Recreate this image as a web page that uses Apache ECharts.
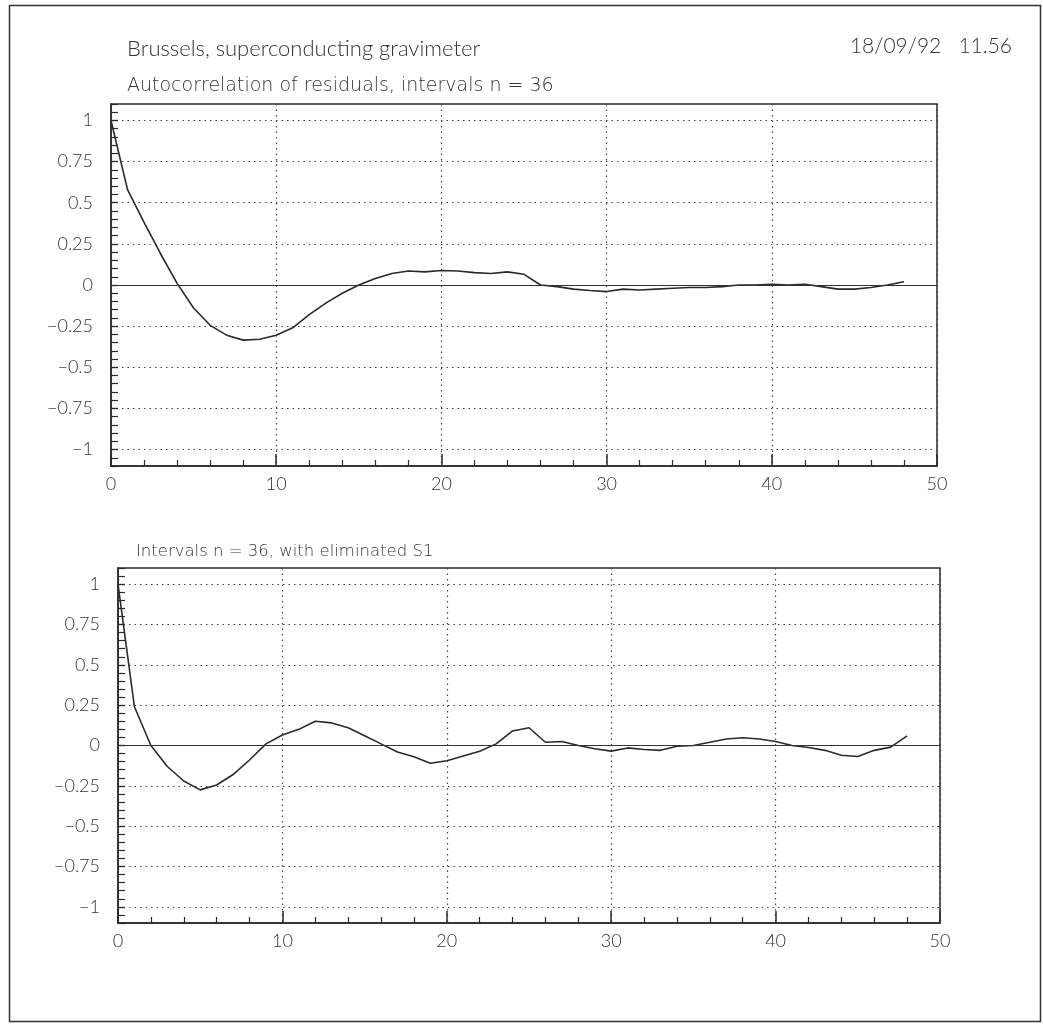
<!DOCTYPE html>
<html><head><meta charset="utf-8">
<script src="https://cdn.jsdelivr.net/npm/echarts@6/dist/echarts.min.js"></script>
<style>html,body{margin:0;padding:0;background:#fff}#c{width:1043px;height:1024px}</style>
</head><body><div id="c"></div>
<script>
// ---- data ----
const lags = [0,1,2,3,4,5,6,7,8,9,10,11,12,13,14,15,16,17,18,19,20,21,22,23,24,25,26,27,28,29,30,31,32,33,34,35,36,37,38,39,40,41,42,43,44,45,46,47,48];
const acfResiduals = [1.0,0.58,0.38,0.19,0.01,-0.14,-0.245,-0.305,-0.335,-0.33,-0.305,-0.26,-0.18,-0.11,-0.05,0.0,0.04,0.07,0.085,0.08,0.088,0.085,0.075,0.07,0.08,0.065,0.0,-0.01,-0.025,-0.033,-0.04,-0.025,-0.03,-0.025,-0.02,-0.015,-0.015,-0.01,0.0,0.0,0.005,0.0,0.005,-0.01,-0.025,-0.025,-0.015,0.0,0.02];
const acfNoS1 = [1.0,0.24,0.0,-0.13,-0.22,-0.275,-0.245,-0.18,-0.09,0.01,0.065,0.10,0.15,0.14,0.11,0.06,0.01,-0.04,-0.07,-0.11,-0.095,-0.065,-0.035,0.01,0.09,0.11,0.02,0.025,0.0,-0.02,-0.035,-0.015,-0.025,-0.03,-0.005,0.0,0.02,0.04,0.048,0.04,0.025,0.0,-0.012,-0.03,-0.06,-0.068,-0.03,-0.01,0.06];
const xTickLabels = [0,10,20,30,40,50];
const yTickLabels = [-1,-0.75,-0.5,-0.25,0,0.25,0.5,0.75,1];
const mainTitle = 'Brussels, superconducting gravimeter';
const subTitle1 = 'Autocorrelation of residuals, intervals n = 36';
const subTitle2 = 'Intervals n = 36, with eliminated S1';
const stamp = '18/09/92   11.56';

// ---- styling ----
const FONT = 'Lato, "Liberation Sans", sans-serif';
const WIDE = '"DejaVu Sans", Lato, sans-serif';
const INK = '#2a2a2a';
const chart = echarts.init(document.getElementById('c'), null, {renderer: 'canvas'});

function fmt(v) {
  return v < 0 ? '\u2212' + String(Math.abs(v)) : String(v);
}
function xAx(g) {
  return {
    type: 'value', gridIndex: g, min: 0, max: 50, interval: 10,
    axisLine: {onZero: false, lineStyle: {color: INK, width: 1.5}},
    axisTick: {inside: true, length: 12, lineStyle: {color: INK, width: 1.5}},
    minorTick: {show: true, splitNumber: 5, length: 6, lineStyle: {color: INK, width: 1.2}},
    axisLabel: {margin: 9, fontSize: 18, color: '#333', fontFamily: FONT, fontWeight: 300,
      customValues: xTickLabels},
    splitLine: {show: true, lineStyle: {type: [1.5, 4], color: '#444', width: 1.2}}
  };
}
function yMain(g) {
  return {
    type: 'value', gridIndex: g, min: -1.1, max: 1.1, position: 'left',
    axisLine: {onZero: false, lineStyle: {color: INK, width: 1.5}},
    axisTick: {inside: true, length: 7, customValues: yTickLabels, lineStyle: {color: INK, width: 1.2}},
    axisLabel: {customValues: yTickLabels, formatter: fmt, margin: 18, fontSize: 18,
      color: '#333', fontFamily: FONT, fontWeight: 300},
    splitLine: {show: true, lineStyle: {type: [1.5, 4], color: '#444', width: 1.2}}
  };
}
function yMinor(g) {
  return {
    type: 'value', gridIndex: g, min: -1.1, max: 1.1, interval: 0.05, position: 'left',
    axisLine: {show: false},
    axisTick: {inside: true, length: 7, lineStyle: {color: INK, width: 1.2}},
    axisLabel: {show: false},
    splitLine: {show: false}
  };
}
function lineSeries(g, vals) {
  return {
    type: 'line', xAxisIndex: g, yAxisIndex: g * 2, showSymbol: false, silent: true,
    data: lags.map((k, i) => [k, vals[i]]),
    lineStyle: {color: INK, width: 1.6},
    markLine: {silent: true, symbol: 'none', label: {show: false},
      lineStyle: {type: 'solid', color: '#333', width: 1.1},
      data: [{yAxis: 0}]}
  };
}

chart.setOption({
  backgroundColor: '#fff',
  animation: false,
  title: [
    {text: mainTitle, left: 122, top: 33, textStyle: {fontSize: 22, fontWeight: 300, color: '#333', fontFamily: FONT}},
    {text: subTitle1, left: 122, top: 72, textStyle: {fontSize: 19, fontWeight: 200, color: '#333', fontFamily: WIDE}},
    {text: stamp, right: 26, top: 31, textStyle: {fontSize: 21, fontWeight: 300, color: '#333', fontFamily: FONT}},
    {text: subTitle2, left: 131, top: 538, textStyle: {fontSize: 16.5, fontWeight: 200, color: '#333', fontFamily: WIDE}}
  ],
  graphic: [
    {type: 'rect', left: 7, top: 3, silent: true,
      shape: {width: 1031, height: 1016},
      style: {fill: 'none', stroke: '#333', lineWidth: 1.5}}
  ],
  grid: [
    {left: 111, top: 104, width: 826, height: 362, show: true, borderColor: INK, borderWidth: 1.5, containLabel: false},
    {left: 118, top: 568, width: 822, height: 355, show: true, borderColor: INK, borderWidth: 1.5, containLabel: false}
  ],
  xAxis: [xAx(0), xAx(1)],
  yAxis: [yMain(0), yMinor(0), yMain(1), yMinor(1)],
  series: [lineSeries(0, acfResiduals), lineSeries(1, acfNoS1)]
});
</script>
</body></html>
